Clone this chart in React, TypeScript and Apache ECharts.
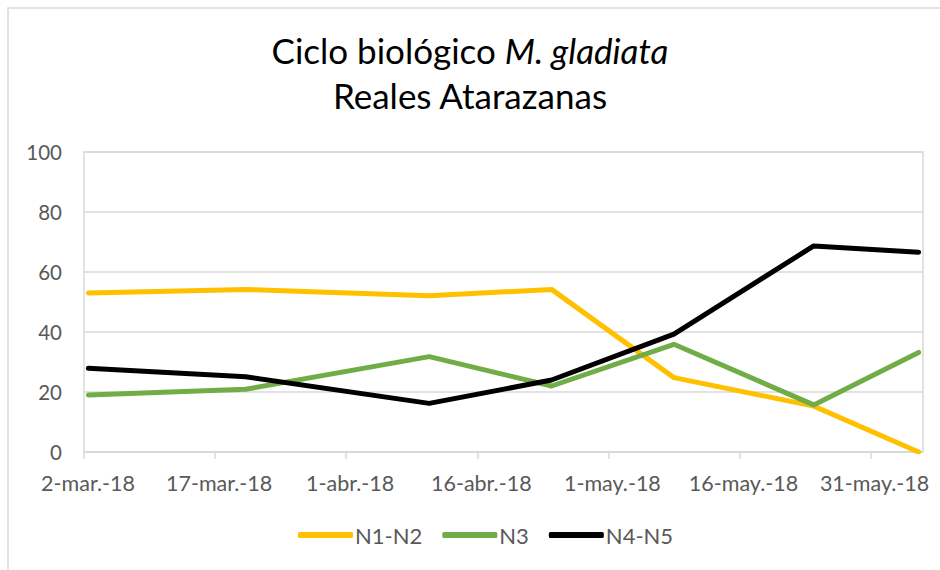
import React, { useEffect, useRef } from "react";
import * as echarts from "echarts";

const startDate = "2018-03-02";
const endOffsetDays = 96;
const sampleDates = ["2018-03-02", "2018-03-20", "2018-04-10", "2018-04-24", "2018-05-08", "2018-05-24", "2018-06-05"];
const seriesNames = ["N1-N2", "N3", "N4-N5"];
const n1n2 = [53, 54.2, 52.1, 54.2, 24.8, 15.3, 0];
const n3 = [19, 20.9, 31.8, 22, 35.9, 15.7, 33.2];
const n4n5 = [27.9, 25.1, 16.2, 24, 39.3, 68.7, 66.6];
const seriesColors = ["#FFC000", "#70AD47", "#000000"];
const monthNames = ["ene", "feb", "mar", "abr", "may", "jun", "jul", "ago", "sep", "oct", "nov", "dic"];
const titleLine1 = "Ciclo biológico ";
const titleItalic = "M. gladiata";
const titleLine2 = "Reales Atarazanas";

const DAY = 86400000;
const t0 = Date.parse(startDate + "T00:00:00Z");
const toOffset = (d: string) => (Date.parse(d + "T00:00:00Z") - t0) / DAY + 0.5;
const fmt = (v: number) => {
  const d = new Date(t0 + Math.round(v) * DAY);
  return `${d.getUTCDate()}-${monthNames[d.getUTCMonth()]}.-${String(d.getUTCFullYear()).slice(2)}`;
};

const FONT = "Lato, 'Liberation Sans', sans-serif";

export default function App() {
  const ref = useRef<HTMLDivElement>(null);
  useEffect(() => {
    if (!ref.current) return;
    const chart = echarts.init(ref.current, undefined, { renderer: "svg" });
    const all = [n1n2, n3, n4n5];
    chart.setOption({
      animation: false,
      backgroundColor: "#ffffff",
      title: {
        left: "center",
        top: 22,
        text: `{n|${titleLine1}}{i|${titleItalic}}\n{n|${titleLine2}}`,
        textStyle: {
          fontWeight: "normal",
          rich: {
            n: { fontFamily: FONT, fontSize: 35, fontWeight: "normal", color: "#000000", lineHeight: 45 },
            i: { fontFamily: FONT, fontSize: 35, fontWeight: "normal", color: "#000000", fontStyle: "italic", lineHeight: 45 },
          },
        },
      },
      graphic: [
        {
          type: "rect",
          shape: { x: 8, y: 8, width: 960, height: 600 },
          style: { fill: "none", stroke: "#d9d9d9", lineWidth: 1.5 },
          silent: true,
        },
      ],
      legend: {
        bottom: 19,
        left: 293,
        itemWidth: 55,
        itemHeight: 6,
        itemGap: 20,
        icon: "roundRect",
        textStyle: { fontFamily: FONT, fontSize: 22, color: "#595959", padding: [0, 0, 0, -3] },
        data: seriesNames,
      },
      grid: {
        left: 84,
        top: 152,
        right: 17,
        bottom: 118,
        show: true,
        borderColor: "#d9d9d9",
        borderWidth: 1.5,
      },
      xAxis: {
        type: "value",
        min: 0,
        max: endOffsetDays,
        interval: 15,
        splitLine: { show: false },
        axisLine: { show: true, lineStyle: { color: "#d9d9d9", width: 1.5 } },
        axisTick: { show: true, length: 7, lineStyle: { color: "#d9d9d9", width: 1.5 } },
        axisLabel: {
          showMaxLabel: false,
          formatter: (v: number) => (v % 15 === 0 ? fmt(v) : ""),
          fontFamily: FONT,
          fontSize: 21.5,
          color: "#595959",
          margin: 20,
          padding: [0, 0, 0, 8],
        },
      },
      yAxis: {
        type: "value",
        min: 0,
        max: 100,
        interval: 20,
        axisLine: { show: false },
        axisTick: { show: false },
        splitLine: { lineStyle: { color: "#d9d9d9", width: 1.5 } },
        axisLabel: { fontFamily: FONT, fontSize: 20.5, color: "#595959", margin: 22 },
      },
      series: seriesNames.map((name, k) => ({
        name,
        type: "line",
        data: sampleDates.map((d, i) => [toOffset(d), all[k][i]]),
        showSymbol: false,
        symbol: "none",
        color: seriesColors[k],
        lineStyle: { color: seriesColors[k], width: 5, cap: "round", join: "round" },
      })),
    });
    return () => chart.dispose();
  }, []);
  return (
    <div
      ref={ref}
      style={{ position: "absolute", left: 0, top: 0, width: 940, height: 570 }}
    />
  );
}
